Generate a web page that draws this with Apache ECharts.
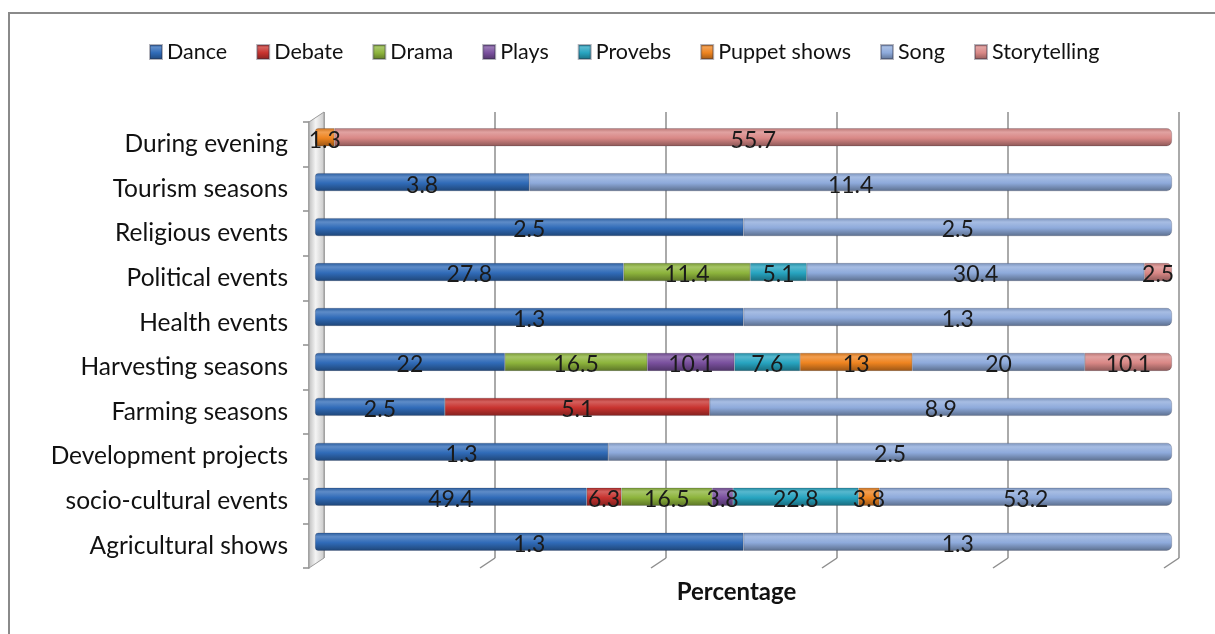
<!DOCTYPE html>
<html>
<head>
<meta charset="utf-8">
<script src="https://cdn.jsdelivr.net/npm/echarts@6/dist/echarts.min.js"></script>
<style>
  html, body { margin: 0; padding: 0; background: #fff; }
  #chart { width: 1215px; height: 634px; }
</style>
</head>
<body>
<div id="chart"></div>
<script>
// Occasions on which each performance form is used (top row first)
const categories = [
  'During evening', 'Tourism seasons', 'Religious events', 'Political events',
  'Health events', 'Harvesting seasons', 'Farming seasons', 'Development projects',
  'socio-cultural events', 'Agricultural shows'
];

// Percentages per form (null = not mentioned)
const dance        = [null, 3.8, 2.5, 27.8, 1.3, 22,   2.5, 1.3, 49.4, 1.3];
const debate       = [null, null, null, null, null, null, 5.1, null, 6.3, null];
const drama        = [null, null, null, 11.4, null, 16.5, null, null, 16.5, null];
const plays        = [null, null, null, null, null, 10.1, null, null, 3.8, null];
const provebs      = [null, null, null, 5.1, null, 7.6, null, null, 22.8, null];
const puppetShows  = [1.3, null, null, null, null, 13,   null, null, 3.8, null];
const song         = [null, 11.4, 2.5, 30.4, 1.3, 20,   8.9, 2.5, 53.2, 1.3];
const storytelling = [55.7, null, null, 2.5, null, 10.1, null, null, null, null];

const seriesNames = ['Dance', 'Debate', 'Drama', 'Plays', 'Provebs', 'Puppet shows', 'Song', 'Storytelling'];
const seriesValues = [dance, debate, drama, plays, provebs, puppetShows, song, storytelling];
const seriesColors = ['#306bb8', '#c8332f', '#8db43c', '#7a509e', '#27a4c0', '#ee8420', '#8eaadb', '#d98886'];

const FONT = 'Lato';

function shade(hex, f) {
  const n = parseInt(hex.slice(1), 16);
  let r = (n >> 16) & 255, g = (n >> 8) & 255, b = n & 255;
  const adj = c => f >= 0 ? Math.round(c + (255 - c) * f) : Math.round(c * (1 + f));
  return 'rgb(' + adj(r) + ',' + adj(g) + ',' + adj(b) + ')';
}
function cylinder(hex) {
  return new echarts.graphic.LinearGradient(0, 0, 0, 1, [
    { offset: 0, color: shade(hex, -0.15) },
    { offset: 0.22, color: shade(hex, 0.22) },
    { offset: 0.55, color: hex },
    { offset: 1, color: shade(hex, -0.35) }
  ]);
}

// each row is shown as a share of its own total (100% stacked)
const rowTotals = categories.map((_, i) =>
  seriesValues.reduce((s, arr) => s + (arr[i] || 0), 0));
const firstIdx = categories.map((_, i) => seriesValues.findIndex(a => a[i] != null));
const lastIdx = categories.map((_, i) => {
  let k = -1; seriesValues.forEach((a, j) => { if (a[i] != null) k = j; }); return k;
});

const series = seriesNames.map((name, s) => ({
  name,
  type: 'bar',
  stack: 'row',
  xAxisIndex: 1,
  yAxisIndex: 1,
  barWidth: 18,
  z: 3,
  itemStyle: { color: cylinder(seriesColors[s]), borderColor: 'rgba(40,40,60,0.35)', borderWidth: 0.6 },
  label: {
    show: true,
    position: 'inside',
    offset: [0, 3],
    fontFamily: FONT,
    fontSize: 23,
    color: '#1a1a1a',
    formatter: p => (p.data && p.data.raw != null) ? String(p.data.raw) : ''
  },
  data: seriesValues[s].map((v, i) => {
    if (v == null) return null;
    const l = firstIdx[i] === s ? 3 : 0;
    const r = lastIdx[i] === s ? 5 : 0;
    return { value: v / rowTotals[i], raw: v, itemStyle: { borderRadius: [l, r, r, l] } };
  })
}));

const chart = echarts.init(document.getElementById('chart'), null, { renderer: 'canvas' });

const option = {
  backgroundColor: '#fff',
  animation: false,
  legend: {
    top: 36,
    left: 144,
    icon: 'rect',
    itemWidth: 12,
    itemHeight: 14,
    itemGap: 29,
    textStyle: { fontFamily: FONT, fontSize: 21.5, color: '#111' },
    data: seriesNames
  },
  grid: [
    { left: 324, top: 112, width: 855, height: 446 },   // back wall
    { left: 315, top: 114.7, width: 857, height: 449.5 }, // bars
    { left: 309, top: 122, width: 855, height: 446 }    // front axis plane
  ],
  xAxis: [
    {
      gridIndex: 0, type: 'value', min: 0, max: 1, interval: 0.2,
      axisLine: { show: false }, axisTick: { show: false }, axisLabel: { show: false },
      splitLine: { show: true, lineStyle: { color: '#8e8e8e', width: 1.5 } }
    },
    {
      gridIndex: 1, type: 'value', min: 0, max: 1, show: false
    },
    {
      gridIndex: 2, type: 'value', min: 0, max: 1,
      axisLine: { show: false }, axisTick: { show: false }, axisLabel: { show: false },
      splitLine: { show: false },
      name: 'Percentage', nameLocation: 'middle', nameGap: 24,
      nameTextStyle: { fontFamily: FONT, fontSize: 24, fontWeight: 'bold', color: '#111', verticalAlign: 'middle' }
    }
  ],
  yAxis: [
    { gridIndex: 0, type: 'category', data: categories, inverse: true, show: false },
    { gridIndex: 1, type: 'category', data: categories, inverse: true, show: false },
    {
      gridIndex: 2, type: 'category', data: categories, inverse: true,
      axisLine: { show: true, lineStyle: { color: '#8e8e8e', width: 1.5 } },
      axisTick: { show: true, length: 6, lineStyle: { color: '#8e8e8e', width: 1.5 } },
      axisLabel: { fontFamily: FONT, fontSize: 24.5, color: '#111', margin: 21 },
      splitLine: { show: false }
    }
  ],
  series
};
chart.setOption(option);

// 3D decorations: left wall, floor ticks and outer frame, placed from the axes
const gBack = chart.getModel().getComponent('grid', 0).coordinateSystem.getRect();
const gFront = chart.getModel().getComponent('grid', 2).coordinateSystem.getRect();
const dx = gFront.x - gBack.x;
const dy = (gFront.y + gFront.height) - (gBack.y + gBack.height);
const graphics = [];

graphics.push({
  type: 'polygon', z: 1, silent: true,
  shape: { points: [
    [gBack.x, gBack.y], [gBack.x, gBack.y + gBack.height],
    [gFront.x, gFront.y + gFront.height], [gFront.x, gFront.y]
  ] },
  style: {
    fill: new echarts.graphic.LinearGradient(0, 0, 1, 0, [
      { offset: 0, color: '#bdbdbd' },
      { offset: 0.45, color: '#f4f4f4' },
      { offset: 1, color: '#c9c9c9' }
    ]),
    stroke: '#9a9a9a', lineWidth: 1
  }
});

[0.2, 0.4, 0.6, 0.8, 1.0].forEach(v => {
  const x = chart.convertToPixel({ xAxisIndex: 0 }, v);
  const y = gBack.y + gBack.height;
  graphics.push({
    type: 'line', z: 1, silent: true,
    shape: { x1: x, y1: y, x2: x + dx, y2: y + dy },
    style: { stroke: '#8e8e8e', lineWidth: 1.5 }
  });
});

graphics.push({
  type: 'rect', z: 0, silent: true,
  shape: { x: 9, y: 13, width: 1300, height: 700 },
  style: { fill: 'none', stroke: '#8a8a8a', lineWidth: 2 }
});

chart.setOption({ graphic: graphics });
</script>
</body>
</html>
